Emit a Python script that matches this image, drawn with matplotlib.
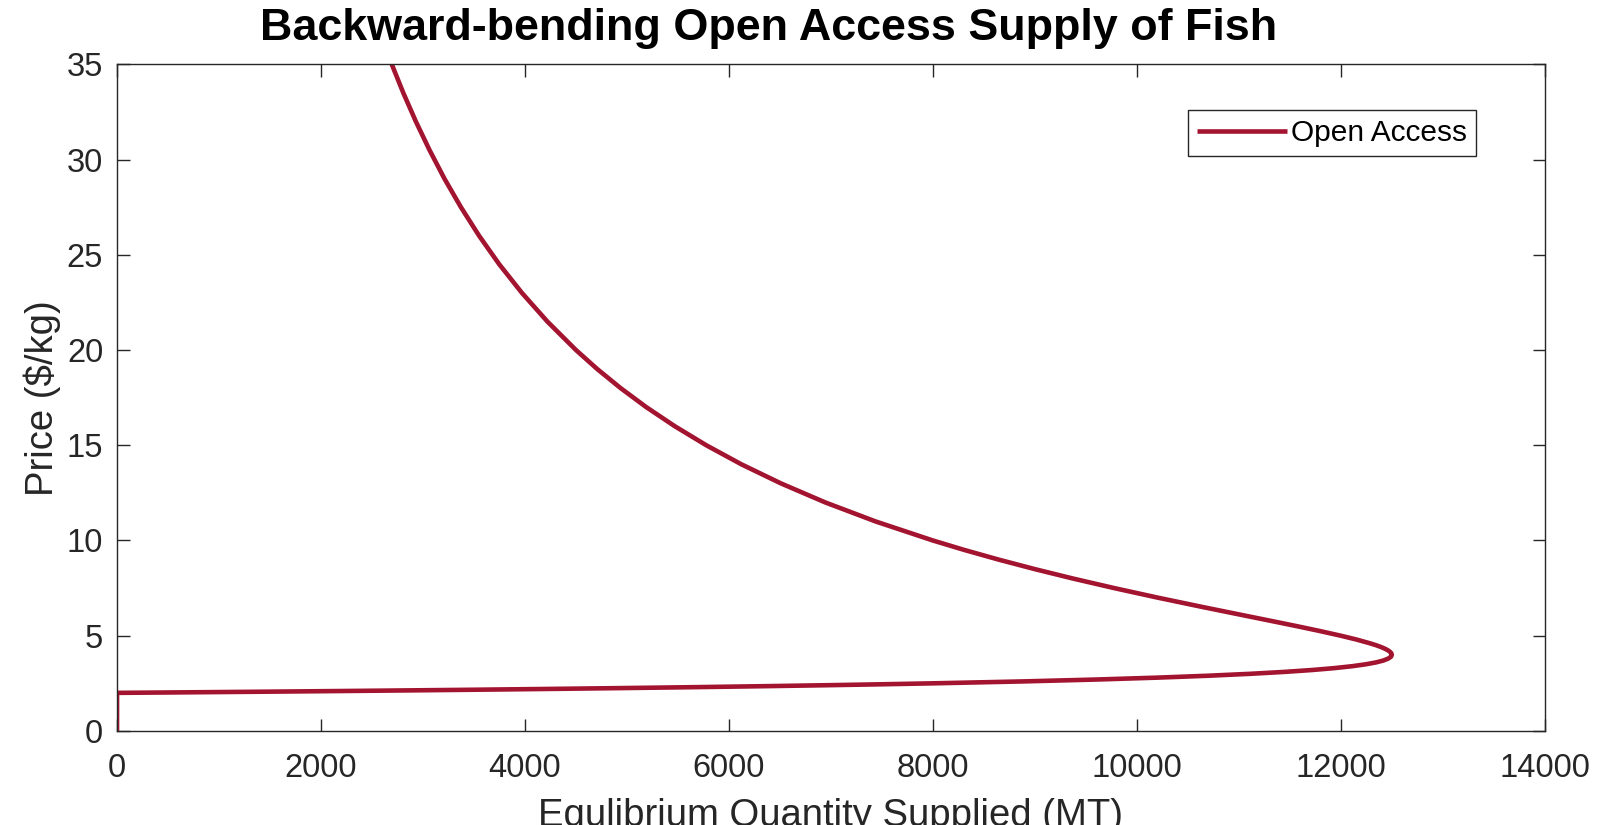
import matplotlib
matplotlib.use('Agg')
import matplotlib.pyplot as plt

# price ($/kg) and equilibrium quantity (MT)
price = [0, 2.0, 2.01, 2.02, 2.04, 2.06, 2.08, 2.1, 2.13, 2.16, 2.2, 2.25, 2.3, 2.35,
         2.4, 2.45, 2.5, 2.6, 2.7, 2.8, 2.9, 3.0, 3.1, 3.2, 3.3, 3.4, 3.5, 3.6, 3.7,
         3.8, 3.9, 4.0, 4.1, 4.2, 4.3, 4.4, 4.5, 4.6, 4.8, 5.0, 5.25, 5.5, 5.75, 6.0,
         6.5, 7.0, 7.5, 8.0, 8.5, 9.0, 9.5, 10.0, 11.0, 12.0, 13.0, 14.0, 15.0, 16.0,
         17.0, 18.0, 19.0, 20.0, 21.5, 23.0, 24.5, 26.0, 27.5, 29.0, 30.5, 32.0, 33.5,
         35.0]
quantity = [0, 0, 248, 490, 961, 1414, 1849, 2268, 2865, 3429, 4132, 4938, 5671, 6338,
            6944, 7497, 8000, 8876, 9602, 10204, 10702, 11111, 11446, 11719, 11938,
            12111, 12245, 12346, 12418, 12465, 12492, 12500, 12493, 12472, 12439,
            12397, 12346, 12287, 12153, 12000, 11791, 11570, 11342, 11111, 10651,
            10204, 9778, 9375, 8997, 8642, 8310, 8000, 7438, 6944, 6509, 6122, 5778,
            5469, 5190, 4938, 4709, 4500, 4219, 3970, 3748, 3550, 3372, 3210, 3064,
            2930, 2807, 2694]

xticks = list(range(0, 14001, 2000))
yticks = list(range(0, 36, 5))

plt.rcParams['font.family'] = ['Liberation Sans', 'DejaVu Sans']
dark = '#262626'

fig = plt.figure(figsize=(16.21, 8.25), dpi=100)
ax = fig.add_axes([0.0722, 0.114, 0.8808, 0.808])

ax.plot(quantity, price, color='#A2142F', lw=3.3, label='Open Access',
        solid_joinstyle='round', solid_capstyle='butt')

ax.set_xlim(0, 14000)
ax.set_ylim(0, 35)
ax.set_xticks(xticks)
ax.set_yticks(yticks)
ax.tick_params(direction='in', length=9, width=1, colors=dark, labelsize=23.5,
               top=True, right=True)
ax.tick_params(axis='x', pad=16)
ax.tick_params(axis='y', pad=10)
for s in ax.spines.values():
    s.set_color(dark)
    s.set_linewidth(1)

# x label sits partly below the figure edge, as in the original export
ax.set_xlabel('Equlibrium Quantity Supplied (MT)', fontsize=27.5, color=dark, labelpad=10)
ax.set_ylabel('Price ($/kg)', fontsize=27.5, color=dark, labelpad=4)
fig.text(0.474, 0.966, 'Backward-bending Open Access Supply of Fish', fontsize=32.3,
         fontweight='bold', ha='center', va='center', color='black')

leg = ax.legend(loc='upper right', bbox_to_anchor=(1476 / 1621, 1 - 110 / 825),
                bbox_transform=fig.transFigure, fontsize=21.5, handlelength=3.0,
                handletextpad=0.15, borderpad=0.3, borderaxespad=0, fancybox=False,
                framealpha=1, edgecolor=dark)
leg.get_frame().set_linewidth(1)

plt.savefig('out.png', dpi=100)
